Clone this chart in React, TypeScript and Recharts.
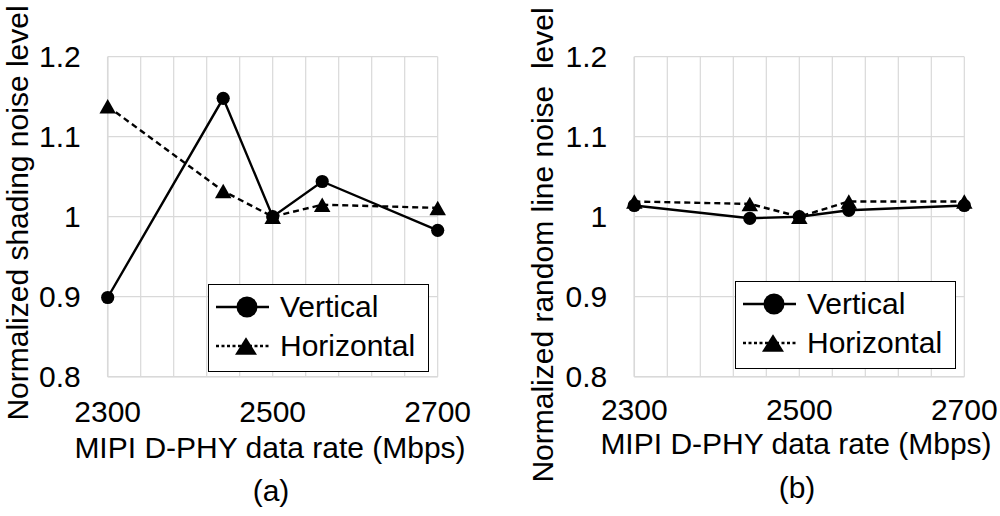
import React from 'react';
import { CartesianGrid, Label, Legend, Line, LineChart, XAxis, YAxis } from 'recharts';

// x positions (Mbps) shared by both panels
const rates = [2300, 2440, 2500, 2560, 2700];

// (a) shading noise
const shadingVertical = [0.899, 1.148, 1.0, 1.044, 0.983];
const shadingHorizontal = [1.138, 1.032, 1.0, 1.015, 1.011];

// (b) random line noise
const randomVertical = [1.014, 0.998, 1.0, 1.008, 1.014];
const randomHorizontal = [1.019, 1.016, 1.0, 1.019, 1.019];

const xGridTicks = [2300, 2340, 2380, 2420, 2460, 2500, 2540, 2580, 2620, 2660, 2700];
const xLabelTicks = [2300, 2500, 2700];
const yTicks = [0.8, 0.9, 1.0, 1.1, 1.2];
const yTickLabels = ['0.8', '0.9', '1', '1.1', '1.2'];

const seriesKeys = ['vertical', 'horizontal'];
const seriesNames = { vertical: 'Vertical', horizontal: 'Horizontal' };

const FONT = '"Liberation Sans", Arial, sans-serif';
const GRID = '#d9d9d9';

const buildRows = (v: number[], h: number[]) =>
  rates.map((rate, i) => ({ rate, vertical: v[i], horizontal: h[i] }));

const Circle = ({ cx, cy, r }: { cx: number; cy: number; r: number }) => (
  <circle cx={cx} cy={cy} r={r} fill="#000" />
);

const Triangle = ({ cx, cy, w, h }: { cx: number; cy: number; w: number; h: number }) => (
  <path d={`M${cx},${cy - h / 2} L${cx + w / 2},${cy + h / 2} L${cx - w / 2},${cy + h / 2} Z`} fill="#000" />
);

const renderCircleDot = (props: any) => {
  if (props.cx == null || props.cy == null) return <g key={`c-${props.index}`} />;
  return <Circle key={`c-${props.index}`} cx={props.cx} cy={props.cy} r={6.6} />;
};

const renderTriangleDot = (props: any) => {
  if (props.cx == null || props.cy == null) return <g key={`t-${props.index}`} />;
  return <Triangle key={`t-${props.index}`} cx={props.cx} cy={props.cy} w={16.5} h={14.5} />;
};

const LegendBox = ({ payload }: any) => {
  const items = [...(payload ?? [])].sort(
    (a: any, b: any) => seriesKeys.indexOf(a.dataKey) - seriesKeys.indexOf(b.dataKey)
  );
  return (
    <div
      style={{
        border: '1.5px solid #000',
        background: '#fff',
        width: 219,
        height: 84,
        boxSizing: 'content-box',
        fontFamily: FONT,
        fontSize: 30,
        color: '#000',
        paddingTop: 2,
      }}
    >
      {items.map((entry: any) => {
        const isVertical = entry.dataKey === 'vertical';
        return (
          <div key={entry.dataKey} style={{ display: 'flex', alignItems: 'center', height: 39, lineHeight: '39px' }}>
            <svg width={68} height={39} style={{ display: 'block' }}>
              <line
                x1={7}
                x2={60}
                y1={20}
                y2={20}
                stroke="#000"
                strokeWidth={2.4}
                strokeDasharray={isVertical ? undefined : '3 2.5'}
              />
              {isVertical ? <Circle cx={38} cy={20} r={10.5} /> : <Triangle cx={37} cy={20} w={22} h={17.5} />}
            </svg>
            <span style={{ marginLeft: 3 }}>{entry.value}</span>
          </div>
        );
      })}
    </div>
  );
};

interface PanelProps {
  left: number;
  rows: { rate: number; vertical: number; horizontal: number }[];
  yLabel: string;
  yAxisWidth: number;
  rightMargin: number;
  yLabelX: number;
  yLabelY: number;
  xTickMargin: number;
  xTitleX: number;
  xTitleY: number;
  subLabel: string;
  subY: number;
  legendLeft: number;
  legendTop: number;
}

const Panel = (p: PanelProps) => (
  <div style={{ position: 'absolute', left: p.left, top: 0 }}>
    <LineChart
      width={500}
      height={516}
      data={p.rows}
      margin={{ top: 56.7, right: p.rightMargin, bottom: 0, left: 0 }}
    >
      <CartesianGrid stroke={GRID} strokeWidth={1.2} />
      <XAxis
        dataKey="rate"
        type="number"
        domain={[2300, 2700]}
        ticks={xGridTicks}
        interval={0}
        tickFormatter={(v: number) => (xLabelTicks.includes(v) ? String(v) : '')}
        height={139.3}
        axisLine={{ stroke: GRID, strokeWidth: 1.5 }}
        tickLine={false}
        tickSize={0}
        tickMargin={p.xTickMargin}
        tick={{ fill: '#000', fontSize: 30, fontFamily: FONT }}
      >
        <Label
          content={() => (
            <g fontFamily={FONT} fill="#000">
              <text x={p.xTitleX} y={p.xTitleY} textAnchor="middle" fontSize={30}>
                MIPI D-PHY data rate (Mbps)
              </text>
              <text x={p.xTitleX + 1} y={p.subY} textAnchor="middle" fontSize={30}>
                {p.subLabel}
              </text>
            </g>
          )}
        />
      </XAxis>
      <YAxis
        type="number"
        domain={[0.8, 1.2]}
        ticks={yTicks}
        interval={0}
        tickFormatter={(v: number) => yTickLabels[yTicks.findIndex((t) => Math.abs(t - v) < 1e-9)] ?? ''}
        width={p.yAxisWidth}
        axisLine={{ stroke: GRID, strokeWidth: 1.5 }}
        tickLine={false}
        tickSize={0}
        tickMargin={27}
        tick={{ fill: '#000', fontSize: 30, fontFamily: FONT }}
      >
        <Label
          content={() => (
            <text
              x={p.yLabelX}
              y={p.yLabelY}
              textAnchor="middle"
              fontSize={30}
              fontFamily={FONT}
              fill="#000"
              style={{ whiteSpace: 'pre' }}
              transform={`rotate(-90 ${p.yLabelX} ${p.yLabelY})`}
            >
              {p.yLabel}
            </text>
          )}
        />
      </YAxis>
      <Legend
        layout="vertical"
        align="center"
        verticalAlign="middle"
        content={<LegendBox />}
        wrapperStyle={{ left: p.legendLeft, top: p.legendTop, width: 222 }}
      />
      <Line
        dataKey="vertical"
        name={seriesNames.vertical}
        stroke="#000"
        strokeWidth={2.4}
        dot={renderCircleDot}
        activeDot={false}
        isAnimationActive={false}
      />
      <Line
        dataKey="horizontal"
        name={seriesNames.horizontal}
        stroke="#000"
        strokeWidth={2.4}
        strokeDasharray="6 4"
        dot={renderTriangleDot}
        activeDot={false}
        isAnimationActive={false}
      />
    </LineChart>
  </div>
);

export default function App() {
  return (
    <div style={{ position: 'absolute', left: 0, top: 0, width: 1000, height: 516, background: '#fff' }}>
      <Panel
        left={0}
        rows={buildRows(shadingVertical, shadingHorizontal)}
        yLabel="Normalized shading noise level"
        yAxisWidth={107.7}
        rightMargin={62.3}
        yLabelX={27.5}
        yLabelY={213}
        xTickMargin={24}
        xTitleX={270}
        xTitleY={458}
        subLabel="(a)"
        subY={500.5}
        legendLeft={208}
        legendTop={284}
      />
      <Panel
        left={500}
        rows={buildRows(randomVertical, randomHorizontal)}
        yLabel={'Normalized random line noise  level'}
        yAxisWidth={134.3}
        rightMargin={35.7}
        yLabelX={53}
        yLabelY={245}
        xTickMargin={22}
        xTitleX={296}
        xTitleY={453.5}
        subLabel="(b)"
        subY={498}
        legendLeft={235}
        legendTop={281}
      />
    </div>
  );
}
